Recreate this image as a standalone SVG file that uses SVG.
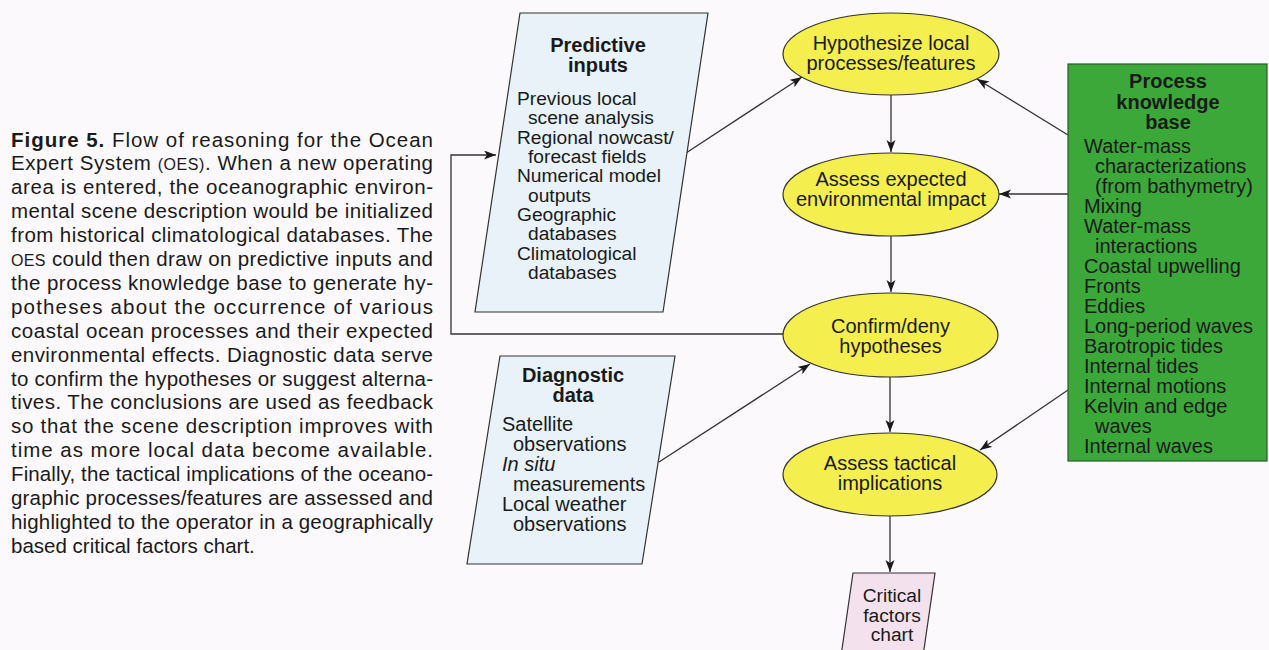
<svg xmlns="http://www.w3.org/2000/svg" width="1269" height="650" viewBox="0 0 1269 650">
<defs>
<marker id="ah" markerUnits="userSpaceOnUse" markerWidth="14" markerHeight="10" refX="12" refY="4.5" orient="auto">
<path d="M0,0 L12,4.5 L0,9 L3,4.5 z" fill="#1a1a1a"/>
</marker>
</defs>
<style>
text{font-family:"Liberation Sans",Arial,sans-serif;fill:#1a1a1a}
.cap{font-size:20.5px}
.sc{font-size:16px}
.t{font-size:20px}
.p{font-size:19.2px}
.b{font-weight:bold}
.c{text-anchor:middle}
.box{fill:#e8f2f8;stroke:#333;stroke-width:1.2}
.ell{fill:#f4ee4e;stroke:#333;stroke-width:1.2}
.green{fill:#3da83a;stroke:#2a5a2a;stroke-width:1.2}
.pink{fill:#f3e2ee;stroke:#333;stroke-width:1.2}
.con{fill:none;stroke:#333;stroke-width:1.3}
.arr{marker-end:url(#ah)}
</style>
<rect width="1269" height="650" fill="#fbf9fc"/>

<g id="caption">
<text class="cap" x="11" y="146.5" textLength="422" lengthAdjust="spacing"><tspan class="b">Figure 5.</tspan> Flow of reasoning for the Ocean</text>
<text class="cap" x="11" y="170.4" textLength="422" lengthAdjust="spacing">Expert System <tspan class="sc">(OES)</tspan>. When a new operating</text>
<text class="cap" x="11" y="194.3" textLength="422" lengthAdjust="spacing">area is entered, the oceanographic environ-</text>
<text class="cap" x="11" y="218.2" textLength="422" lengthAdjust="spacing">mental scene description would be initialized</text>
<text class="cap" x="11" y="242.1" textLength="422" lengthAdjust="spacing">from historical climatological databases. The</text>
<text class="cap" x="11" y="266" textLength="422" lengthAdjust="spacing"><tspan class="sc">OES</tspan> could then draw on predictive inputs and</text>
<text class="cap" x="11" y="289.9" textLength="422" lengthAdjust="spacing">the process knowledge base to generate hy-</text>
<text class="cap" x="11" y="313.8" textLength="422" lengthAdjust="spacing">potheses about the occurrence of various</text>
<text class="cap" x="11" y="337.7" textLength="422" lengthAdjust="spacing">coastal ocean processes and their expected</text>
<text class="cap" x="11" y="361.6" textLength="422" lengthAdjust="spacing">environmental effects. Diagnostic data serve</text>
<text class="cap" x="11" y="385.5" textLength="422" lengthAdjust="spacing">to confirm the hypotheses or suggest alterna-</text>
<text class="cap" x="11" y="409.4" textLength="422" lengthAdjust="spacing">tives. The conclusions are used as feedback</text>
<text class="cap" x="11" y="433.3" textLength="422" lengthAdjust="spacing">so that the scene description improves with</text>
<text class="cap" x="11" y="457.2" textLength="422" lengthAdjust="spacing">time as more local data become available.</text>
<text class="cap" x="11" y="481.1" textLength="422" lengthAdjust="spacing">Finally, the tactical implications of the oceano-</text>
<text class="cap" x="11" y="505" textLength="422" lengthAdjust="spacing">graphic processes/features are assessed and</text>
<text class="cap" x="11" y="528.9" textLength="422" lengthAdjust="spacing">highlighted to the operator in a geographically</text>
<text class="cap" x="11" y="552.8">based critical factors chart.</text>
</g>

<g id="connectors">
<polyline class="con arr" points="783,334 451,334 451,155 496,155"/>
<line class="con arr" x1="686" y1="153" x2="802" y2="77"/>
<line class="con arr" x1="659" y1="462" x2="810" y2="364"/>
<line class="con arr" x1="891" y1="95" x2="891" y2="152"/>
<line class="con arr" x1="891" y1="236" x2="891" y2="292"/>
<line class="con arr" x1="890" y1="377" x2="890" y2="432"/>
<line class="con arr" x1="890" y1="516" x2="890" y2="572"/>
<line class="con arr" x1="1068" y1="135" x2="977" y2="79"/>
<line class="con arr" x1="1068" y1="194" x2="999" y2="194"/>
<line class="con arr" x1="1068" y1="390" x2="980" y2="450"/>
</g>

<g id="predictive-inputs">
<polygon class="box" points="520,13 708,13 663,312 475,312"/>
<text class="t b c" x="598" y="52">Predictive</text>
<text class="t b c" x="598" y="72">inputs</text>
<text class="p" x="517" y="105">Previous local</text>
<text class="p" x="528" y="124.3">scene analysis</text>
<text class="p" x="517" y="143.7">Regional nowcast/</text>
<text class="p" x="528" y="163">forecast fields</text>
<text class="p" x="517" y="182.3">Numerical model</text>
<text class="p" x="528" y="201.7">outputs</text>
<text class="p" x="517" y="221">Geographic</text>
<text class="p" x="528" y="240.3">databases</text>
<text class="p" x="517" y="259.7">Climatological</text>
<text class="p" x="528" y="279">databases</text>
</g>

<g id="diagnostic-data">
<polygon class="box" points="500,356 675,356 642,564 467,564"/>
<text class="t b c" x="573" y="382">Diagnostic</text>
<text class="t b c" x="573" y="402">data</text>
<text class="t" x="502" y="431">Satellite</text>
<text class="t" x="513" y="451">observations</text>
<text class="t" x="502" y="471" font-style="italic">In situ</text>
<text class="t" x="513" y="491">measurements</text>
<text class="t" x="502" y="511">Local weather</text>
<text class="t" x="513" y="531">observations</text>
</g>

<g id="hypothesize">
<ellipse class="ell" cx="891" cy="54" rx="108" ry="41"/>
<text class="t c" x="891" y="50">Hypothesize local</text>
<text class="t c" x="891" y="70">processes/features</text>
</g>

<g id="assess-impact">
<ellipse class="ell" cx="891" cy="194.5" rx="108" ry="41.5"/>
<text class="t c" x="891" y="186">Assess expected</text>
<text class="t c" x="891" y="206">environmental impact</text>
</g>

<g id="confirm-deny">
<ellipse class="ell" cx="890.5" cy="335" rx="107.5" ry="42"/>
<text class="t c" x="890.5" y="333">Confirm/deny</text>
<text class="t c" x="890.5" y="353">hypotheses</text>
</g>

<g id="assess-tactical">
<ellipse class="ell" cx="890" cy="474.5" rx="107" ry="41.5"/>
<text class="t c" x="890" y="470">Assess tactical</text>
<text class="t c" x="890" y="490">implications</text>
</g>

<g id="process-knowledge-base">
<rect class="green" x="1068" y="64" width="199" height="397"/>
<text class="t b c" x="1168" y="88">Process</text>
<text class="t b c" x="1168" y="109">knowledge</text>
<text class="t b c" x="1168" y="129">base</text>
<text class="t" x="1084" y="153">Water-mass</text>
<text class="t" x="1095" y="173">characterizations</text>
<text class="t" x="1095" y="193">(from bathymetry)</text>
<text class="t" x="1084" y="213">Mixing</text>
<text class="t" x="1084" y="233">Water-mass</text>
<text class="t" x="1095" y="253">interactions</text>
<text class="t" x="1084" y="273">Coastal upwelling</text>
<text class="t" x="1084" y="293">Fronts</text>
<text class="t" x="1084" y="313">Eddies</text>
<text class="t" x="1084" y="333">Long-period waves</text>
<text class="t" x="1084" y="353">Barotropic tides</text>
<text class="t" x="1084" y="373">Internal tides</text>
<text class="t" x="1084" y="393">Internal motions</text>
<text class="t" x="1084" y="413">Kelvin and edge</text>
<text class="t" x="1095" y="433">waves</text>
<text class="t" x="1084" y="453">Internal waves</text>
</g>

<g id="critical-factors-chart">
<polygon class="pink" points="853,573 935,573 921,670 839,670"/>
<text class="p c" x="892" y="602">Critical</text>
<text class="p c" x="892" y="621.5">factors</text>
<text class="p c" x="892" y="641">chart</text>
</g>
</svg>
